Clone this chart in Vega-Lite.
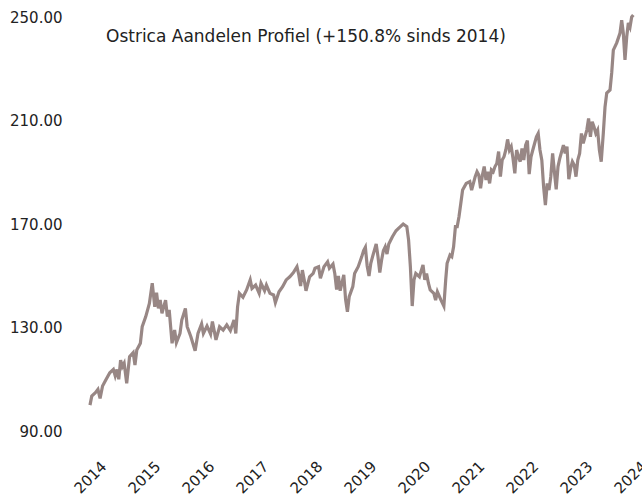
{
  "$schema": "https://vega.github.io/schema/vega-lite/v6.json",
  "width": 572,
  "height": 445,
  "autosize": {"type": "none"},
  "padding": {"left": 68, "top": 5, "right": 2, "bottom": 46},
  "background": "white",
  "config": {"view": {"stroke": null}, "font": "DejaVu Sans"},
  "title": {"text": "Ostrica Aandelen Profiel (+150.8% sinds 2014)", "anchor": "start", "frame": "group", "baseline": "alphabetic", "offset": 0, "dx": 38, "dy": 54, "fontSize": 17, "fontWeight": "normal", "color": "#222222", "font": "DejaVu Sans"},
  "data": {"values": [
    {"jaar": 2014.000, "koers": 100.0},
    {"jaar": 2014.033, "koers": 103.5},
    {"jaar": 2014.100, "koers": 104.8},
    {"jaar": 2014.147, "koers": 106.1},
    {"jaar": 2014.187, "koers": 102.6},
    {"jaar": 2014.233, "koers": 107.4},
    {"jaar": 2014.300, "koers": 110.0},
    {"jaar": 2014.367, "koers": 112.5},
    {"jaar": 2014.433, "koers": 113.8},
    {"jaar": 2014.467, "koers": 111.3},
    {"jaar": 2014.500, "koers": 113.8},
    {"jaar": 2014.533, "koers": 110.0},
    {"jaar": 2014.567, "koers": 117.4},
    {"jaar": 2014.600, "koers": 114.9},
    {"jaar": 2014.633, "koers": 116.2},
    {"jaar": 2014.680, "koers": 108.4},
    {"jaar": 2014.733, "koers": 118.7},
    {"jaar": 2014.800, "koers": 120.3},
    {"jaar": 2014.833, "koers": 115.5},
    {"jaar": 2014.867, "koers": 121.3},
    {"jaar": 2014.933, "koers": 123.9},
    {"jaar": 2014.967, "koers": 130.3},
    {"jaar": 2015.033, "koers": 134.2},
    {"jaar": 2015.100, "koers": 139.3},
    {"jaar": 2015.153, "koers": 147.1},
    {"jaar": 2015.200, "koers": 138.0},
    {"jaar": 2015.233, "koers": 143.5},
    {"jaar": 2015.267, "koers": 137.4},
    {"jaar": 2015.300, "koers": 140.6},
    {"jaar": 2015.333, "koers": 135.5},
    {"jaar": 2015.400, "koers": 140.6},
    {"jaar": 2015.433, "koers": 134.2},
    {"jaar": 2015.467, "koers": 136.8},
    {"jaar": 2015.520, "koers": 123.9},
    {"jaar": 2015.567, "koers": 129.0},
    {"jaar": 2015.600, "koers": 124.1},
    {"jaar": 2015.667, "koers": 127.7},
    {"jaar": 2015.700, "koers": 132.9},
    {"jaar": 2015.767, "koers": 137.4},
    {"jaar": 2015.800, "koers": 130.3},
    {"jaar": 2015.867, "koers": 126.5},
    {"jaar": 2015.947, "koers": 121.0},
    {"jaar": 2016.000, "koers": 127.7},
    {"jaar": 2016.067, "koers": 131.4},
    {"jaar": 2016.100, "koers": 127.7},
    {"jaar": 2016.167, "koers": 130.6},
    {"jaar": 2016.233, "koers": 127.5},
    {"jaar": 2016.267, "koers": 132.3},
    {"jaar": 2016.333, "koers": 125.2},
    {"jaar": 2016.400, "koers": 130.3},
    {"jaar": 2016.467, "koers": 129.0},
    {"jaar": 2016.533, "koers": 131.0},
    {"jaar": 2016.600, "koers": 128.8},
    {"jaar": 2016.667, "koers": 132.9},
    {"jaar": 2016.700, "koers": 127.7},
    {"jaar": 2016.733, "koers": 138.0},
    {"jaar": 2016.767, "koers": 143.2},
    {"jaar": 2016.833, "koers": 141.7},
    {"jaar": 2016.900, "koers": 144.5},
    {"jaar": 2016.967, "koers": 148.4},
    {"jaar": 2017.000, "koers": 145.1},
    {"jaar": 2017.067, "koers": 146.4},
    {"jaar": 2017.133, "koers": 143.2},
    {"jaar": 2017.167, "koers": 147.1},
    {"jaar": 2017.233, "koers": 144.2},
    {"jaar": 2017.267, "koers": 146.4},
    {"jaar": 2017.333, "koers": 143.2},
    {"jaar": 2017.400, "koers": 142.6},
    {"jaar": 2017.433, "koers": 139.6},
    {"jaar": 2017.500, "koers": 143.8},
    {"jaar": 2017.567, "koers": 145.8},
    {"jaar": 2017.633, "koers": 148.4},
    {"jaar": 2017.700, "koers": 149.6},
    {"jaar": 2017.767, "koers": 151.2},
    {"jaar": 2017.833, "koers": 153.5},
    {"jaar": 2017.867, "koers": 150.3},
    {"jaar": 2017.900, "koers": 146.0},
    {"jaar": 2017.933, "koers": 152.2},
    {"jaar": 2017.967, "koers": 148.4},
    {"jaar": 2018.000, "koers": 144.2},
    {"jaar": 2018.067, "koers": 149.6},
    {"jaar": 2018.133, "koers": 150.9},
    {"jaar": 2018.167, "koers": 152.9},
    {"jaar": 2018.233, "koers": 153.5},
    {"jaar": 2018.267, "koers": 149.0},
    {"jaar": 2018.333, "koers": 153.5},
    {"jaar": 2018.400, "koers": 155.4},
    {"jaar": 2018.433, "koers": 152.9},
    {"jaar": 2018.500, "koers": 154.5},
    {"jaar": 2018.533, "koers": 150.9},
    {"jaar": 2018.567, "koers": 144.7},
    {"jaar": 2018.600, "koers": 149.9},
    {"jaar": 2018.633, "koers": 144.2},
    {"jaar": 2018.700, "koers": 150.3},
    {"jaar": 2018.733, "koers": 140.9},
    {"jaar": 2018.767, "koers": 136.1},
    {"jaar": 2018.800, "koers": 141.9},
    {"jaar": 2018.867, "koers": 145.8},
    {"jaar": 2018.900, "koers": 150.9},
    {"jaar": 2018.967, "koers": 153.5},
    {"jaar": 2019.033, "koers": 157.4},
    {"jaar": 2019.067, "koers": 159.7},
    {"jaar": 2019.100, "koers": 161.0},
    {"jaar": 2019.133, "koers": 153.8},
    {"jaar": 2019.167, "koers": 149.9},
    {"jaar": 2019.200, "koers": 154.8},
    {"jaar": 2019.233, "koers": 157.4},
    {"jaar": 2019.300, "koers": 162.3},
    {"jaar": 2019.333, "koers": 157.4},
    {"jaar": 2019.367, "koers": 151.2},
    {"jaar": 2019.400, "koers": 156.1},
    {"jaar": 2019.433, "koers": 159.7},
    {"jaar": 2019.467, "koers": 161.2},
    {"jaar": 2019.500, "koers": 158.4},
    {"jaar": 2019.533, "koers": 162.3},
    {"jaar": 2019.600, "koers": 165.1},
    {"jaar": 2019.667, "koers": 167.4},
    {"jaar": 2019.733, "koers": 168.7},
    {"jaar": 2019.800, "koers": 170.0},
    {"jaar": 2019.867, "koers": 169.0},
    {"jaar": 2019.900, "koers": 163.8},
    {"jaar": 2019.933, "koers": 153.5},
    {"jaar": 2019.967, "koers": 138.3},
    {"jaar": 2020.000, "koers": 148.4},
    {"jaar": 2020.033, "koers": 150.9},
    {"jaar": 2020.100, "koers": 149.6},
    {"jaar": 2020.167, "koers": 154.2},
    {"jaar": 2020.200, "koers": 148.4},
    {"jaar": 2020.233, "koers": 150.9},
    {"jaar": 2020.267, "koers": 147.1},
    {"jaar": 2020.300, "koers": 144.5},
    {"jaar": 2020.367, "koers": 143.2},
    {"jaar": 2020.400, "koers": 140.6},
    {"jaar": 2020.433, "koers": 143.8},
    {"jaar": 2020.500, "koers": 140.6},
    {"jaar": 2020.553, "koers": 138.3},
    {"jaar": 2020.587, "koers": 148.4},
    {"jaar": 2020.613, "koers": 154.8},
    {"jaar": 2020.667, "koers": 158.0},
    {"jaar": 2020.700, "koers": 157.4},
    {"jaar": 2020.733, "koers": 161.2},
    {"jaar": 2020.767, "koers": 169.0},
    {"jaar": 2020.800, "koers": 169.0},
    {"jaar": 2020.833, "koers": 172.8},
    {"jaar": 2020.867, "koers": 178.0},
    {"jaar": 2020.900, "koers": 183.1},
    {"jaar": 2020.967, "koers": 185.7},
    {"jaar": 2021.033, "koers": 186.4},
    {"jaar": 2021.067, "koers": 183.1},
    {"jaar": 2021.133, "koers": 188.3},
    {"jaar": 2021.167, "koers": 190.2},
    {"jaar": 2021.200, "koers": 188.9},
    {"jaar": 2021.233, "koers": 183.8},
    {"jaar": 2021.267, "koers": 188.9},
    {"jaar": 2021.300, "koers": 192.2},
    {"jaar": 2021.333, "koers": 187.0},
    {"jaar": 2021.367, "koers": 190.2},
    {"jaar": 2021.400, "koers": 185.7},
    {"jaar": 2021.433, "koers": 190.9},
    {"jaar": 2021.467, "koers": 190.2},
    {"jaar": 2021.500, "koers": 192.2},
    {"jaar": 2021.533, "koers": 193.4},
    {"jaar": 2021.567, "koers": 198.0},
    {"jaar": 2021.600, "koers": 188.3},
    {"jaar": 2021.633, "koers": 194.7},
    {"jaar": 2021.667, "koers": 196.0},
    {"jaar": 2021.700, "koers": 198.6},
    {"jaar": 2021.733, "koers": 202.7},
    {"jaar": 2021.767, "koers": 198.6},
    {"jaar": 2021.800, "koers": 199.9},
    {"jaar": 2021.833, "koers": 195.4},
    {"jaar": 2021.867, "koers": 189.6},
    {"jaar": 2021.900, "koers": 198.6},
    {"jaar": 2021.933, "koers": 196.0},
    {"jaar": 2021.967, "koers": 194.1},
    {"jaar": 2022.000, "koers": 199.2},
    {"jaar": 2022.033, "koers": 194.7},
    {"jaar": 2022.067, "koers": 200.5},
    {"jaar": 2022.100, "koers": 202.2},
    {"jaar": 2022.133, "koers": 189.3},
    {"jaar": 2022.167, "koers": 196.0},
    {"jaar": 2022.200, "koers": 198.6},
    {"jaar": 2022.267, "koers": 203.7},
    {"jaar": 2022.300, "koers": 205.0},
    {"jaar": 2022.333, "koers": 198.6},
    {"jaar": 2022.367, "koers": 194.7},
    {"jaar": 2022.400, "koers": 184.4},
    {"jaar": 2022.433, "koers": 177.3},
    {"jaar": 2022.467, "koers": 185.7},
    {"jaar": 2022.500, "koers": 183.1},
    {"jaar": 2022.533, "koers": 188.3},
    {"jaar": 2022.567, "koers": 197.3},
    {"jaar": 2022.600, "koers": 190.2},
    {"jaar": 2022.633, "koers": 183.4},
    {"jaar": 2022.667, "koers": 192.2},
    {"jaar": 2022.700, "koers": 195.4},
    {"jaar": 2022.767, "koers": 200.5},
    {"jaar": 2022.800, "koers": 197.3},
    {"jaar": 2022.833, "koers": 199.9},
    {"jaar": 2022.867, "koers": 187.3},
    {"jaar": 2022.900, "koers": 191.5},
    {"jaar": 2022.933, "koers": 194.1},
    {"jaar": 2022.967, "koers": 192.8},
    {"jaar": 2023.000, "koers": 188.3},
    {"jaar": 2023.033, "koers": 194.7},
    {"jaar": 2023.067, "koers": 197.3},
    {"jaar": 2023.100, "koers": 205.0},
    {"jaar": 2023.133, "koers": 201.2},
    {"jaar": 2023.200, "koers": 206.3},
    {"jaar": 2023.233, "koers": 210.8},
    {"jaar": 2023.267, "koers": 203.7},
    {"jaar": 2023.300, "koers": 209.5},
    {"jaar": 2023.333, "koers": 207.6},
    {"jaar": 2023.367, "koers": 205.0},
    {"jaar": 2023.400, "koers": 206.3},
    {"jaar": 2023.433, "koers": 198.6},
    {"jaar": 2023.467, "koers": 194.1},
    {"jaar": 2023.506, "koers": 205.2},
    {"jaar": 2023.537, "koers": 215.2},
    {"jaar": 2023.569, "koers": 220.6},
    {"jaar": 2023.630, "koers": 221.8},
    {"jaar": 2023.661, "koers": 228.4},
    {"jaar": 2023.691, "koers": 237.2},
    {"jaar": 2023.754, "koers": 240.0},
    {"jaar": 2023.815, "koers": 243.8},
    {"jaar": 2023.846, "koers": 248.8},
    {"jaar": 2023.876, "koers": 243.8},
    {"jaar": 2023.907, "koers": 233.4},
    {"jaar": 2023.939, "koers": 242.3},
    {"jaar": 2023.969, "koers": 247.7},
    {"jaar": 2024.000, "koers": 246.1},
    {"jaar": 2024.031, "koers": 250.0},
    {"jaar": 2024.061, "koers": 250.8}
  ]},
  "mark": {"type": "line", "color": "#988785", "strokeWidth": 3.2},
  "encoding": {
    "x": {
      "field": "jaar", "type": "quantitative",
      "scale": {"domain": [2013.593, 2024.185], "nice": false, "zero": false},
      "axis": {
        "title": null, "values": [2014, 2015, 2016, 2017, 2018, 2019, 2020, 2021, 2022, 2023, 2024],
        "format": "d", "grid": false, "domain": false, "ticks": false, "tickSize": 0,
        "labelAngle": -45, "labelAlign": "center", "labelBaseline": "middle",
        "labelPadding": 27, "labelDx": -5, "labelFontSize": 15, "labelFont": "DejaVu Sans",
        "labelColor": "#222222", "labelOverlap": false, "labelFlush": false
      }
    },
    "y": {
      "field": "koers", "type": "quantitative",
      "scale": {"domain": [82.66, 254.64], "nice": false, "zero": false},
      "axis": {
        "title": null, "values": [90, 130, 170, 210, 250], "format": ".2f",
        "grid": false, "domain": false, "ticks": false, "tickSize": 0,
        "labelPadding": 6, "labelFontSize": 15, "labelFont": "DejaVu Sans",
        "labelColor": "#222222", "labelOverlap": false, "labelFlush": false
      }
    }
  }
}
